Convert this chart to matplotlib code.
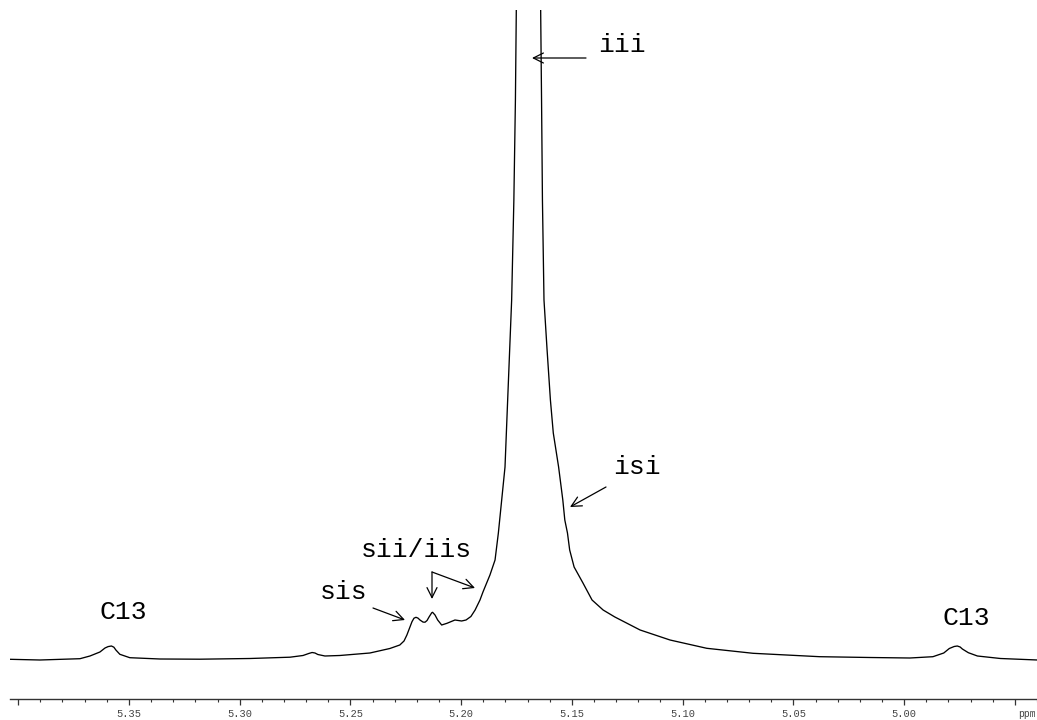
import matplotlib
matplotlib.use("Agg")
import matplotlib.pyplot as plt
from matplotlib.ticker import FixedLocator, MultipleLocator

# ---- data (chemical shift in ppm, intensity in a.u.) ----
ppm = [5.4037, 5.3902, 5.3721, 5.3676, 5.3631, 5.3608, 5.3594, 5.3579, 5.3568,
       5.3559, 5.3541, 5.3496, 5.3360, 5.3180, 5.2954, 5.2773, 5.2714, 5.2687,
       5.2673, 5.2660, 5.2647, 5.2615, 5.2548, 5.2412, 5.2322, 5.2277, 5.2258,
       5.2245, 5.2222, 5.2213, 5.2204, 5.2195, 5.2186, 5.2172, 5.2163, 5.2154,
       5.2145, 5.2133, 5.2129, 5.2118, 5.2106, 5.2088, 5.2064, 5.2028, 5.1998,
       5.1978, 5.1956, 5.1937, 5.1915, 5.1901, 5.1870, 5.1847, 5.1832, 5.1817,
       5.1802, 5.1790, 5.1772, 5.1762, 5.1755, 5.1751, 5.1750, 5.1698, 5.1643,
       5.1641, 5.1637, 5.1633, 5.1626, 5.1612, 5.1597, 5.1584, 5.1560, 5.1541,
       5.1532, 5.1520, 5.1510, 5.1490, 5.1450, 5.1409, 5.1359, 5.1306, 5.1192,
       5.1057, 5.0891, 5.0682, 5.0381, 5.0155, 4.9974, 4.9870, 4.9821, 4.9796,
       4.9774, 4.9760, 4.9747, 4.9737, 4.9710, 4.9669, 4.9565, 4.9398]
intensity = [39.7, 39.0, 40.3, 43.0, 47.0, 51.0, 52.4, 53.0, 51.8,
             49.0, 44.7, 41.3, 40.0, 39.8, 40.5, 41.8, 43.5, 45.6,
             46.5, 46.0, 44.5, 43.0, 43.5, 46.0, 50.5, 54.0, 58.0,
             64.0, 77.3, 80.8, 81.7, 80.9, 79.0, 76.9, 76.8, 78.5,
             82.0, 86.2, 86.7, 84.0, 79.0, 74.0, 75.7, 79.0, 78.0,
             79.0, 82.5, 89.0, 99.0, 107.3, 124.0, 139.0, 166.0, 199.0,
             232.0, 299.0, 399.0, 499.0, 599.0, 689.0, 739.0, 3699.0, 739.0,
             689.0, 599.0, 499.0, 399.0, 349.0, 299.0, 266.0, 232.0, 199.0,
             179.0, 166.0, 149.0, 132.0, 116.0, 99.0, 89.0, 82.0, 69.0,
             59.0, 50.7, 45.7, 42.3, 41.5, 41.0, 42.3, 46.0, 50.5,
             52.5, 53.0, 52.0, 50.0, 46.3, 43.0, 40.5, 39.0]

major_ticks = [5.40, 5.35, 5.30, 5.25, 5.20, 5.15, 5.10, 5.05, 5.00, 4.95]
tick_labels = ["", "5.35", "5.30", "5.25", "5.20", "5.15", "5.10", "5.05", "5.00", ""]
unit_label = "ppm"

labels = ["iii", "isi", "sii/iis", "sis", "C13", "C13"]

# ---- figure ----
W, H = 1037, 720
fig = plt.figure(figsize=(W / 100, H / 100), dpi=100)
ax = fig.add_axes([10 / W, (H - 699) / H, (W - 10) / W, (699 - 10) / H])

ax.plot(ppm, intensity, color="black", lw=0.95, solid_joinstyle="round")
ax.set_xlim(5.4037, 4.9400)
ax.set_ylim(0, 689)

for s in ["top", "left", "right"]:
    ax.spines[s].set_visible(False)
ax.spines["bottom"].set_color("#333333")
ax.spines["bottom"].set_linewidth(1.0)
ax.set_yticks([])

ax.xaxis.set_major_locator(FixedLocator(major_ticks))
ax.set_xticklabels(tick_labels)
ax.xaxis.set_minor_locator(MultipleLocator(0.01))
ax.tick_params(axis="x", which="major", length=4.5, width=0.9, color="#333333",
               pad=3, labelsize=7.5, labelcolor="#444444")
ax.tick_params(axis="x", which="minor", length=2.2, width=0.8, color="#333333")
for t in ax.get_xticklabels():
    t.set_family("Liberation Mono")

fig.text(1036 / W, 1 - 714 / H, unit_label, ha="right", va="center", fontsize=7,
         color="#444444", family="Liberation Mono")


def fp(x, y):
    return (x, H - y)


font = dict(family="Liberation Mono", fontsize=19, color="black",
            ha="center", va="center")

text_pos = [(622, 45), (637, 467), (416, 550), (344, 592), (123, 612), (966, 618)]
for lab, (x, y) in zip(labels, text_pos):
    fig.text(x / W, 1 - y / H, lab, **font)

arrow = dict(arrowstyle="->,head_length=0.6,head_width=0.3", lw=0.9,
             color="black", shrinkA=0, shrinkB=0, mutation_scale=12)
arrows = [((586, 58), (532, 58)),
          ((606, 487), (570, 507)),
          ((373, 608), (405, 620)),
          ((432, 572), (432, 599)),
          ((432, 572), (475, 588))]
for (x0, y0), (x1, y1) in arrows:
    ax.annotate("", xy=fp(x1, y1), xycoords="figure pixels",
                xytext=fp(x0, y0), textcoords="figure pixels",
                arrowprops=arrow, annotation_clip=False)

fig.savefig("out.png", dpi=100)
